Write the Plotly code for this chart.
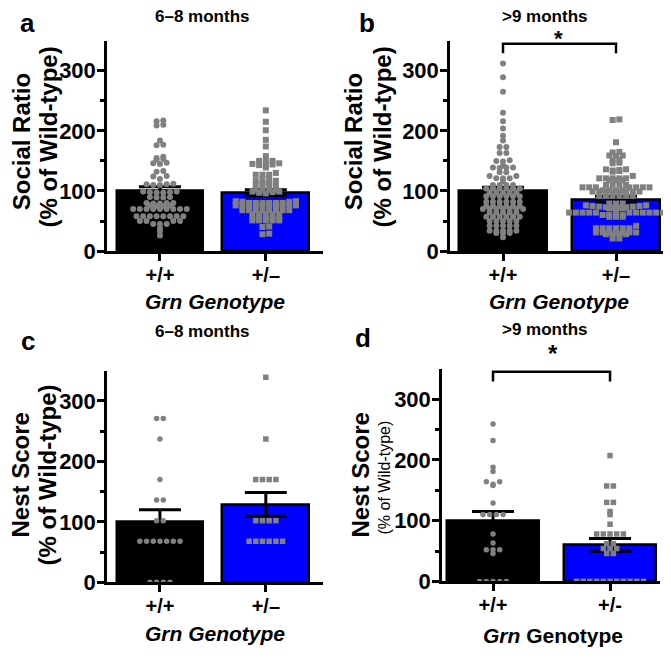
import plotly.graph_objects as go

# page body has an 8px default margin; the figure is sized/positioned to compensate
OFF = 8
W, H = 663, 655
FONT = "Liberation Sans, Arial, sans-serif"

# ---------------- data ----------------
categories = ["+/+", "+/\u2013"]
categories_d = ["+/+", "+/-"]
panel_titles = ["6\u20138 months", ">9 months", "6\u20138 months", ">9 months"]
y_ticks = [0, 100, 200, 300]
y_minor = [50, 150, 250]

social_68_wt = [217, 216, 210, 209, 184, 177, 176, 157, 155, 153, 152, 147, 146, 145, 133, 132,
                125, 124, 120, 112, 111, 111, 110, 110, 99, 99, 98, 98, 97, 97, 90, 90, 89, 89,
                80, 80, 80, 79, 79, 76, 76, 75, 75, 70, 70, 70, 70, 70, 70, 70, 70, 70,
                58, 58, 58, 58, 58, 58, 58, 58, 50, 50, 50, 50, 45, 45, 45, 38, 33, 26]
social_68_het = [234, 215, 201, 185, 174, 158, 150, 150, 149, 146, 145, 144, 143, 142, 139, 130,
                 127, 127, 127, 120, 120, 117, 117, 113, 113, 110, 110, 110, 110, 102, 102, 102,
                 101, 99, 99, 98, 97, 96, 83, 83, 82, 82, 80, 80, 80, 80, 80, 80,
                 76, 76, 76, 76, 76, 76, 76, 76, 76, 76, 68, 68, 68, 68, 68, 68, 68, 68,
                 61, 61, 61, 61, 61, 54, 54, 54, 54, 54, 51, 51, 51, 51, 51, 41, 40, 29, 28]
social_9_wt = [312, 289, 265, 230, 216, 204, 192, 184, 173, 173, 163, 163, 151, 150, 149, 142,
               139, 139, 139, 138, 131, 131, 125, 125, 121, 121, 121, 116, 110, 110, 110, 110,
               104, 104, 104, 104, 104, 104, 97, 97, 97, 97, 97,
               91, 91, 91, 91, 91, 91, 82, 82, 82, 82, 82, 82,
               75, 75, 75, 75, 75, 75, 70, 70, 70, 70, 70, 70, 70,
               64, 64, 64, 64, 64, 57, 57, 57, 57, 57, 57, 50, 50, 50, 50, 50,
               42, 42, 42, 42, 42, 34, 34, 34, 34, 34, 30, 30, 30, 23]
social_9_het = [219, 218, 181, 165, 164, 159, 159, 158, 152, 151, 147, 146, 136, 136, 135, 134,
                133, 132, 125, 121, 121, 121, 121, 121, 118, 118, 118, 110, 110, 110, 110,
                106, 106, 106, 106, 106, 106, 106, 101, 101, 101, 101,
                99, 99, 99, 99, 99, 99, 99, 99, 92, 92, 92, 92, 92, 92,
                79, 79, 79, 76, 76, 75, 75, 74, 74, 73, 73, 72, 72, 71, 71, 70,
                64, 64, 64, 64, 64, 64, 64, 64, 64, 64, 64, 60, 60, 60, 60, 57, 57, 57,
                42, 38, 38, 38, 38, 38, 38, 31, 31, 31, 31, 31, 31, 31, 28, 28, 28, 28, 21, 21]
nest_68_wt = [271, 271, 237, 170, 136, 136, 102, 102, 68, 68, 68, 68, 68, 68, 68, 0, 0, 0, 0]
nest_68_het = [339, 237, 170, 170, 170, 170, 102, 102, 102, 102, 68, 68, 68, 68, 68, 68]
nest_9_wt = [259, 232, 188, 181, 164, 164, 160, 158, 129, 110, 110, 110, 110, 78, 63,
             52, 52, 52, 46, 0, 0, 0, 0, 0]
nest_9_het = [207, 157, 157, 130, 130, 115, 110, 94, 78, 78, 78, 78, 78, 62, 62, 54, 54, 54,
              46, 46, 0, 0, 0, 0, 0, 0, 0, 0, 0, 0, 0]

means_a = [100, 97]
sem_a = [7, 5]
means_b = [100, 86]
sem_b = [6, 5]
means_c = [100, 129]
sem_c = [20, 19.5]
means_d = [100, 60]
sem_d = [15, 10.5]

bracket_level = 345
bracket_drop = 16

# ---------------- layout geometry (window pixels) ----------------
panels = [
    dict(wt=social_68_wt, het=social_68_het, mean=means_a, sem=sem_a,
         box=(107, 323, 41.3, 256), xr=[-0.5, 1.54], bw=0.82, ticks=categories, ms=6, sig=False),
    dict(wt=social_9_wt, het=social_9_het, mean=means_b, sem=sem_b,
         box=(450, 668, 41.3, 256), xr=[-0.469, 1.46], bw=0.78, ticks=categories, ms=6, sig=True),
    dict(wt=nest_68_wt, het=nest_68_het, mean=means_c, sem=sem_c,
         box=(107, 323, 378, 594), xr=[-0.5, 1.54], bw=0.82, ticks=categories, ms=5.5, sig=False),
    dict(wt=nest_9_wt, het=nest_9_het, mean=means_d, sem=sem_d,
         box=(442, 660, 376, 593), xr=[-0.436, 1.427], bw=0.78, ticks=categories_d, ms=5.5, sig=True),
]


def swarm(values, ppx, ppy, d, h):
    """Prism-style row scatter: bin by pixel height h, centre each row, spacing d px."""
    bins = {}
    for i, v in enumerate(values):
        bins.setdefault(round(v * ppy / h), []).append(i)
    offs = [0.0] * len(values)
    for ids in bins.values():
        ids.sort(key=lambda i: values[i])
        m = len(ids)
        slots = [(j - (m - 1) / 2) * d for j in range(m)]
        slots.sort(key=lambda s: (abs(s), s))
        for i, s in zip(ids, slots):
            offs[i] = s
    return [o / ppx for o in offs]


def px(x):
    return (x - OFF) / W


def py(y):
    return 1 - (y - OFF) / H


fig = go.Figure()
LW = 2.5
for n, p in enumerate(panels, 1):
    sfx = "" if n == 1 else str(n)
    xa, ya = "x" + sfx, "y" + sfx
    x0, x1, ytop, ybot = p["box"]
    ppx = (x1 - x0) / (p["xr"][1] - p["xr"][0])
    ppy = (ybot - ytop) / 350.0
    fig.add_trace(go.Bar(
        x=[0, 1], y=p["mean"], width=p["bw"],
        marker=dict(color=["#000000", "#0000ff"], line=dict(color="black", width=LW)),
        error_y=dict(type="data", array=p["sem"], visible=True, color="black",
                     thickness=3, width=21),
        xaxis=xa, yaxis=ya, showlegend=False, hoverinfo="skip"))
    ow = swarm(p["wt"], ppx, ppy, 6.7, 4.2)
    oh = swarm(p["het"], ppx, ppy, 6.7, 4.2)
    fig.add_trace(go.Scatter(
        x=[0 + o for o in ow], y=p["wt"], mode="markers",
        marker=dict(symbol="circle", color="#808080", size=p["ms"], line=dict(width=0)),
        cliponaxis=False, xaxis=xa, yaxis=ya, showlegend=False))
    fig.add_trace(go.Scatter(
        x=[1 + o for o in oh], y=p["het"], mode="markers",
        marker=dict(symbol="square", color="#808080", size=p["ms"], line=dict(width=0)),
        cliponaxis=False, xaxis=xa, yaxis=ya, showlegend=False))
    if p["sig"]:
        fig.add_trace(go.Scatter(
            x=[0, 0, 1, 1],
            y=[bracket_level - bracket_drop, bracket_level, bracket_level, bracket_level - bracket_drop],
            mode="lines", line=dict(color="black", width=LW), cliponaxis=False,
            xaxis=xa, yaxis=ya, showlegend=False, hoverinfo="skip"))
    fig.layout["xaxis" + sfx] = dict(
        domain=[px(x0), px(x1)], range=p["xr"], anchor=ya,
        tickvals=[0, 1], ticktext=p["ticks"], ticks="outside", ticklen=7, tickwidth=LW,
        tickcolor="black", showline=True, linecolor="black", linewidth=LW,
        showgrid=False, zeroline=False, ticklabelstandoff=-3,
        tickfont=dict(size=20, color="black", family=FONT, weight="bold"))
    fig.layout["yaxis" + sfx] = dict(
        domain=[py(ybot), py(ytop)], range=[0, 350], anchor=xa,
        tickvals=y_ticks, ticks="outside", ticklen=7, tickwidth=LW, tickcolor="black",
        minor=dict(tickvals=y_minor, ticks="outside", ticklen=4, tickwidth=LW, tickcolor="black"),
        showline=True, linecolor="black", linewidth=LW, showgrid=False, zeroline=False,
        ticklabelstandoff=-3,
        tickfont=dict(size=22, color="black", family=FONT, weight="bold"))


def ann(text, x, y, size, bold=True, italic=False, angle=0):
    t = text
    if italic:
        t = "<i>" + t + "</i>"
    if bold:
        t = "<b>" + t + "</b>"
    return dict(text=t, x=px(x), y=py(y), xref="paper", yref="paper", showarrow=False,
                xanchor="center", yanchor="middle", textangle=angle,
                font=dict(size=size, color="black", family=FONT))


anns = [
    ann("a", 27, 23, 26), ann("b", 367, 23, 26), ann("c", 28, 348, 26), ann("d", 363, 345, 26),
    ann(panel_titles[0], 202, 17, 17), ann(panel_titles[1], 545, 17, 17),
    ann(panel_titles[2], 202, 338, 17), ann(panel_titles[3], 545, 336, 17),
    ann("*", 558, 39, 22), ann("*", 553, 360, 24),
    ann("Grn Genotype", 215, 307, 21, italic=True),
    ann("Grn Genotype", 559, 307, 21, italic=True),
    ann("Grn Genotype", 215, 646, 21, italic=True),
    dict(text="<b><i>Grn</i> Genotype</b>", x=px(553), y=py(648), xref="paper", yref="paper",
         showarrow=False, xanchor="center", yanchor="middle",
         font=dict(size=21, color="black", family=FONT)),
    ann("Social Ratio", 21, 145, 24, angle=-90),
    ann("(% of Wild-type)", 48, 140, 24, angle=-90),
    ann("Social Ratio", 353, 145, 24, angle=-90),
    ann("(% of Wild-type)", 382, 140, 24, angle=-90),
    ann("Nest Score", 21, 485, 24, angle=-90),
    ann("(% of Wild-type)", 48, 485, 24, angle=-90),
    ann("Nest Score", 361, 485, 24, angle=-90),
    ann("(% of Wild-type)", 384, 487, 16, bold=False, angle=-90),
]

fig.update_layout(
    width=W, height=H, autosize=False,
    margin=dict(l=0, r=0, t=0, b=0),
    plot_bgcolor="white", paper_bgcolor="white",
    annotations=anns, bargap=0,
    font=dict(family=FONT, color="black"),
)

fig.write_html("out.html")
